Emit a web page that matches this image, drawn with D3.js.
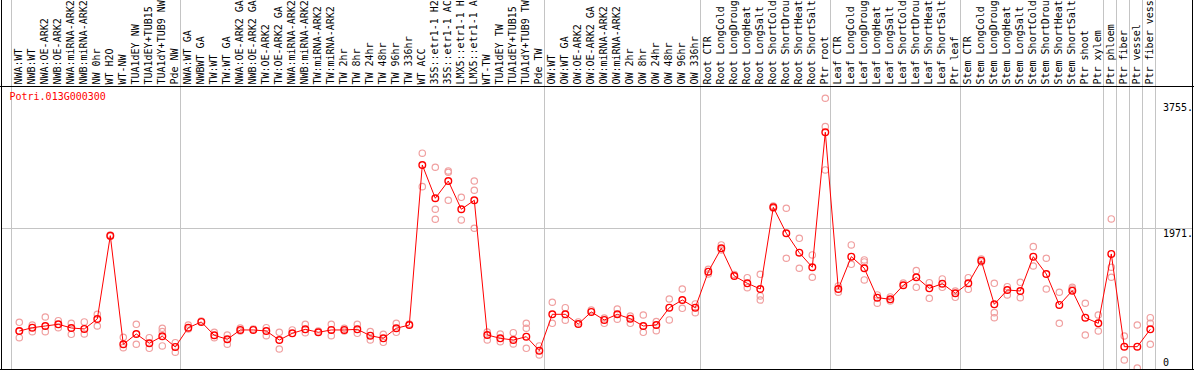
<!DOCTYPE html>
<html>
<head>
<meta charset="utf-8">
<script src="https://cdn.jsdelivr.net/npm/d3@7"></script>
<style>
  body { margin: 0; background: #fff; }
  svg { display: block; }
  text { font-family: "DejaVu Sans Mono", monospace; font-size: 10px; }
</style>
</head>
<body>
<svg id="chart"></svg>
<script>
var geneId = "Potri.013G000300";

// sample names as shown (long names are cut at the top of the strip)
var categories = [
  "NWA:WT", "NWB:WT", "NWA:OE-ARK2", "NWB:OE-ARK2", "NWA:miRNA-ARK2", "NWB:miRNA-ARK2",
  "NW 0hr", "WT H2O", "WT-NW", "TUA1dEY NW", "TUA1dEY+TUB15", "TUA1dY+TUB9 NW", "Pde NW",
  "NWA:WT GA", "NWBWT GA", "TW:WT", "TW:WT GA", "NWA:OE-ARK2 GA", "NWB:OE-ARK2 GA",
  "TW:OE-ARK2", "TW:OE-ARK2 GA", "NWA:miRNA-ARK2", "NWB:miRNA-ARK2", "TW:miRNA-ARK2",
  "TW:miRNA-ARK2", "TW 2hr", "TW 8hr", "TW 24hr", "TW 48hr", "TW 96hr", "TW 336hr",
  "WT ACC", "35S::etr1-1 H2", "35S::etr1-1 AC", "LMX5::etr1-1 H", "LMX5::etr1-1 A",
  "WT-TW", "TUA1dEY TW", "TUA1dEY+TUB15", "TUA1dY+TUB9 TW", "Pde TW",
  "OW:WT", "OW:WT GA", "OW:OE-ARK2", "OW:OE-ARK2 GA", "OW:miRNA-ARK2", "OW:miRNA-ARK2",
  "OW 2hr", "OW 8hr", "OW 24hr", "OW 48hr", "OW 96hr", "OW 336hr",
  "Root CTR", "Root LongCold", "Root LongDroug", "Root LongHeat", "Root LongSalt",
  "Root ShortCold", "Root ShortDrou", "Root ShortHeat", "Root ShortSalt", "Ptr root",
  "Leaf CTR", "Leaf LongCold", "Leaf LongDroug", "Leaf LongHeat", "Leaf LongSalt",
  "Leaf ShortCold", "Leaf ShortDrou", "Leaf ShortHeat", "Leaf ShortSalt", "Ptr leaf",
  "Stem CTR", "Stem LongCold", "Stem LongDroug", "Stem LongHeat", "Stem LongSalt",
  "Stem ShortCold", "Stem ShortDrou", "Stem ShortHeat", "Stem ShortSalt", "Ptr shoot",
  "Ptr xylem", "Ptr phloem", "Ptr fiber", "Ptr vessel", "Ptr fiber vess"
];

// mean expression per sample
var means = [
  522, 569, 593, 617, 565, 551, 692, 1868, 335, 480, 349, 448, 297,
  569, 650, 462, 405, 537, 537, 522, 395, 490, 546, 504, 537, 537, 546, 456, 419, 561, 607,
  2866, 2396, 2640, 2241, 2368, 466, 419, 395, 442, 244,
  758, 758, 621, 791, 678, 758, 696, 593, 607, 851, 960, 851,
  1360, 1690, 1299, 1196, 1115, 2269, 1902, 1628, 1422, 3328,
  1115, 1572, 1408, 993, 970, 1168, 1281, 1125, 1190, 1055,
  1196, 1515, 899, 1101, 1087, 1572, 1327, 890, 1091, 710, 631,
  1610, 301, 301, 546
];

// individual replicates per sample
var replicates = [
  [645, 428, 522], [607, 513], [720, 513], [668, 569], [631, 476], [650, 480], [758, 593],
  [1878, 1857], [433, 287], [617, 335], [428, 278], [561, 513, 311], [357, 222],
  [607, 551], [664], [504, 428], [466, 335], [565, 522], [551], [569, 456], [504, 268],
  [537], [617, 498], [522], [617, 456], [561, 522], [617, 490], [513, 395], [476, 363],
  [631, 504], [621],
  [3032, 2560], [2834, 2241, 2100], [2782, 2763, 2368], [2410, 2090], [2640, 2509, 1973],
  [508, 395], [480, 371], [498, 339], [631, 561, 278], [311, 184],
  [928, 631], [851, 674], [650], [819], [631, 706], [833, 688], [631, 734], [748, 504],
  [654, 527], [974, 678], [1115, 843], [904, 781],
  [1394, 1327], [1737, 1666], [1320], [1275, 1134], [1323, 1017, 960], [2255, 2287],
  [2255, 1549], [1831, 1408], [1596, 1281], [3808, 3407, 2796],
  [1158, 1069], [1737, 1464], [1525, 1497, 1243], [914, 1031], [1003, 946], [1200],
  [1374, 1139], [1204, 984], [1257, 1139], [998, 1087],
  [1275, 1111], [1539, 1497], [1196, 781, 710], [1148, 1031], [1210, 993], [1713, 1440],
  [1549, 1115], [1069, 631], [1139, 1115], [914, 466], [748, 522],
  [2104, 1422, 1281], [452, 113], [607, 0], [710, 631, 335]
];

// index of the first sample of each group (a grey separator is drawn before it)
var groupStarts = [0, 13, 41, 53, 63, 73, 84, 85, 86, 87];

var yTicks = [0, 1971, 3755];
var yGrid = [1971];

var width = 1194, height = 370, labelBottom = 86;

var svg = d3.select("#chart")
    .attr("width", width)
    .attr("height", height);

var x = d3.scaleLinear().domain([0, categories.length - 1]).range([19.3, 19.3 + 13 * (categories.length - 1)]);
var y = d3.scaleLinear().domain([0, 3755]).range([368, 102]);

// separators
var sepX = groupStarts.map(function(i) { return x(i) - 8; });
sepX.push(x(categories.length - 1) + 5);

svg.selectAll("line.sep")
    .data(sepX)
    .enter().append("line")
    .attr("class", "sep")
    .attr("x1", function(d) { return Math.round(d) + 0.5; })
    .attr("x2", function(d) { return Math.round(d) + 0.5; })
    .attr("y1", 0)
    .attr("y2", height)
    .attr("stroke", "#c4c4c4")
    .attr("stroke-width", 1);

svg.selectAll("line.grid")
    .data(yGrid)
    .enter().append("line")
    .attr("class", "grid")
    .attr("x1", 2)
    .attr("x2", 1192)
    .attr("y1", function(d) { return Math.round(y(d)) + 0.5; })
    .attr("y2", function(d) { return Math.round(y(d)) + 0.5; })
    .attr("stroke", "#c4c4c4");

// sample labels
svg.selectAll("text.lab")
    .data(categories)
    .enter().append("text")
    .attr("class", "lab")
    .attr("transform", function(d, i) { return "translate(" + (x(i) + 3) + "," + (labelBottom - 1.5) + ") rotate(-90)"; })
    .attr("fill", "#000")
    .text(function(d) { return d; });

// replicates
var repPts = [];
replicates.forEach(function(r, i) {
    r.forEach(function(v) { repPts.push({ i: i, v: v }); });
});

svg.selectAll("circle.rep")
    .data(repPts)
    .enter().append("circle")
    .attr("class", "rep")
    .attr("cx", function(d) { return x(d.i); })
    .attr("cy", function(d) { return y(d.v); })
    .attr("r", 3.2)
    .attr("fill", "none")
    .attr("stroke", "#f0a0a0")
    .attr("stroke-width", 1.2);

var line = d3.line()
    .x(function(d, i) { return x(i); })
    .y(function(d) { return y(d); });

svg.append("path")
    .datum(means)
    .attr("d", line)
    .attr("fill", "none")
    .attr("stroke", "#ff0000")
    .attr("stroke-width", 1);

svg.selectAll("circle.mean")
    .data(means)
    .enter().append("circle")
    .attr("class", "mean")
    .attr("cx", function(d, i) { return x(i); })
    .attr("cy", function(d) { return y(d); })
    .attr("r", 3.3)
    .attr("fill", "none")
    .attr("stroke", "#ff0000")
    .attr("stroke-width", 1.4);

// frame
svg.append("line").attr("x1", 1.5).attr("x2", 1.5).attr("y1", 0).attr("y2", height).attr("stroke", "#000");
svg.append("line").attr("x1", 1192.5).attr("x2", 1192.5).attr("y1", 0).attr("y2", height).attr("stroke", "#000");
svg.append("line").attr("x1", 0).attr("x2", width).attr("y1", labelBottom + 0.5).attr("y2", labelBottom + 0.5).attr("stroke", "#000");
svg.append("line").attr("x1", 0).attr("x2", width).attr("y1", 369.5).attr("y2", 369.5).attr("stroke", "#000");

svg.append("text")
    .attr("x", 9.5)
    .attr("y", 100)
    .attr("fill", "#ff0000")
    .text(geneId);

// value labels
svg.selectAll("text.tick")
    .data(yTicks)
    .enter().append("text")
    .attr("class", "tick")
    .attr("x", 1163)
    .attr("y", function(d) { return d === 0 ? 366 : y(d) + 9; })
    .attr("fill", "#000")
    .text(function(d) { return d === 0 ? "0" : d + "."; });
</script>
</body>
</html>
